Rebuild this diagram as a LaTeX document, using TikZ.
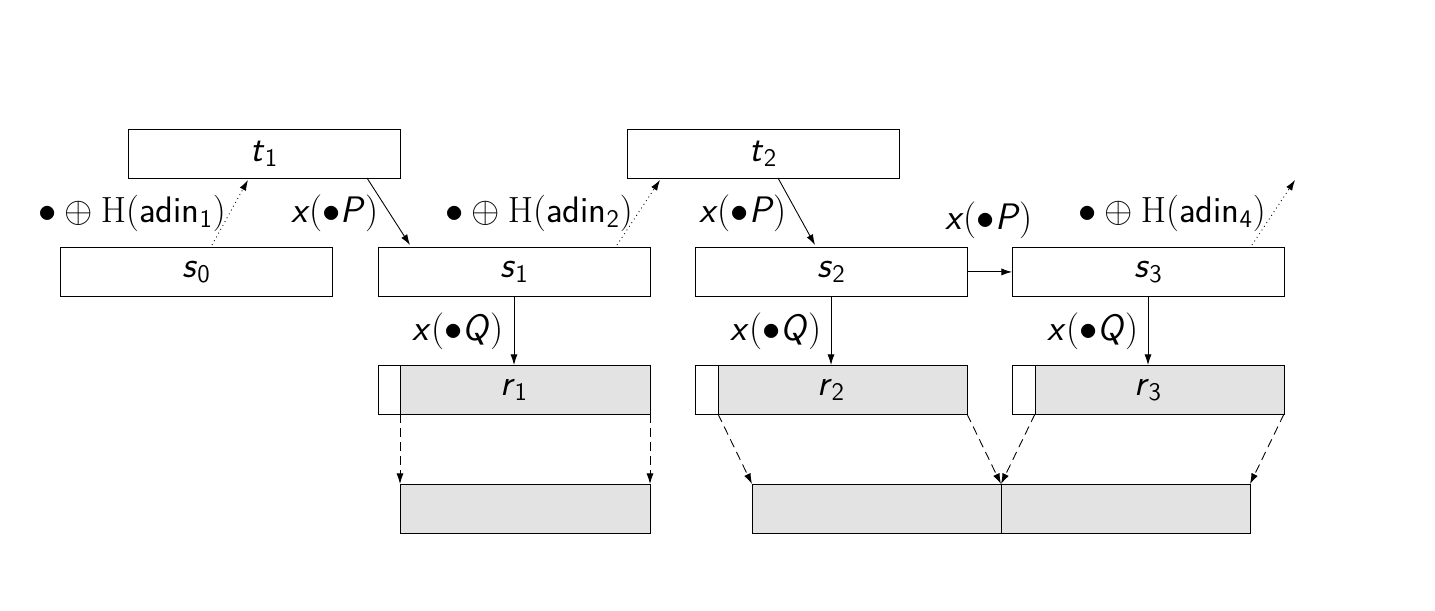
\documentclass[tikz,border=0pt]{standalone}
\usetikzlibrary{arrows.meta}
\newcommand{\sv}[1]{\textsf{\textit{#1}}}
\newcommand{\xb}[1]{\sv{x}($\bullet$\sv{#1})}
\newcommand{\adin}[1]{$\bullet\oplus\mathrm{H}($\textsf{adin}$_{\mathsf{#1}})$}
\begin{document}
\begin{tikzpicture}[x=0.02cm,y=-0.02cm,font=\fontsize{21}{25}\selectfont,
  bx/.style={draw,line width=0.5pt,minimum width=5.44cm,minimum height=0.98cm,inner sep=0pt,anchor=north west},
  gb/.style={draw,fill=black!11,line width=0.5pt,inner sep=0pt,anchor=north west,minimum height=0.98cm},
  ar/.style={-{Latex[length=6pt,width=4pt]},line width=0.5pt},
  dar/.style={ar,dash pattern=on 5pt off 3pt},
  dot/.style={ar,dotted}]
\useasboundingbox (0,0) rectangle (1435,611);
\node[bx] (t1) at (128,129) {$\sv{t}_{\mathsf{1}}$};
\node[bx] (t2) at (627,129) {$\sv{t}_{\mathsf{2}}$};
\node[bx] (s0) at (60,247) {$\sv{s}_{\mathsf{0}}$};
\node[bx] (s1) at (378,247) {$\sv{s}_{\mathsf{1}}$};
\node[bx] (s2) at (695,247) {$\sv{s}_{\mathsf{2}}$};
\node[bx] (s3) at (1012,247) {$\sv{s}_{\mathsf{3}}$};
\node[gb,minimum width=0.44cm,fill=white] (w1) at (378,365) {};
\node[gb,minimum width=5.0cm] (r1) at (400,365) {};
\node[gb,minimum width=0.46cm,fill=white] (w2) at (695,365) {};
\node[gb,minimum width=4.98cm] (r2) at (718,365) {};
\node[gb,minimum width=0.46cm,fill=white] (w3) at (1012,365) {};
\node[gb,minimum width=4.98cm] (r3) at (1035,365) {};
\node (rl1) at (514,390) {$\sv{r}_{\mathsf{1}}$};
\node (rl2) at (831,390) {$\sv{r}_{\mathsf{2}}$};
\node (rl3) at (1148,390) {$\sv{r}_{\mathsf{3}}$};
\node[gb,minimum width=5.0cm] (b1) at (400,484) {};
\node[gb,minimum width=4.98cm] (b2) at (752,484) {};
\node[gb,minimum width=4.98cm] (b3) at (1001,484) {};
\coordinate (e3) at (1295,180);
\draw[dot] (212,245) -- (248,180);
\draw[ar] (367,178) -- (410,245);
\draw[dot] (617,245) -- (660,180);
\draw[ar] (778,178) -- (815,245);
\draw[dot] (1252,245) -- (e3);
\draw[ar] (s2.east) -- (s3.west);
\draw[ar] (514,296) -- (514,365);
\draw[ar] (831,296) -- (831,365);
\draw[ar] (1148,296) -- (1148,365);
\draw[dar] (400,414) -- (400,484);
\draw[dar] (650,414) -- (650,484);
\draw[dar] (718,414) -- (752,484);
\draw[dar] (967,414) -- (1001,484);
\draw[dar] (1035,414) -- (1001,484);
\draw[dar] (1284,414) -- (1250,484);
\node (l1) at (132,213) {\adin{1}};
\node (l2) at (539,213) {\adin{2}};
\node (l4) at (1172,213) {\adin{4}};
\node (p1) at (335,213) {\xb{P}};
\node (p2) at (743,213) {\xb{P}};
\node (p3) at (989,220) {\xb{P}};
\node (q1) at (458,331) {\xb{Q}};
\node (q2) at (776,331) {\xb{Q}};
\node (q3) at (1093,331) {\xb{Q}};
\end{tikzpicture}
\end{document}
